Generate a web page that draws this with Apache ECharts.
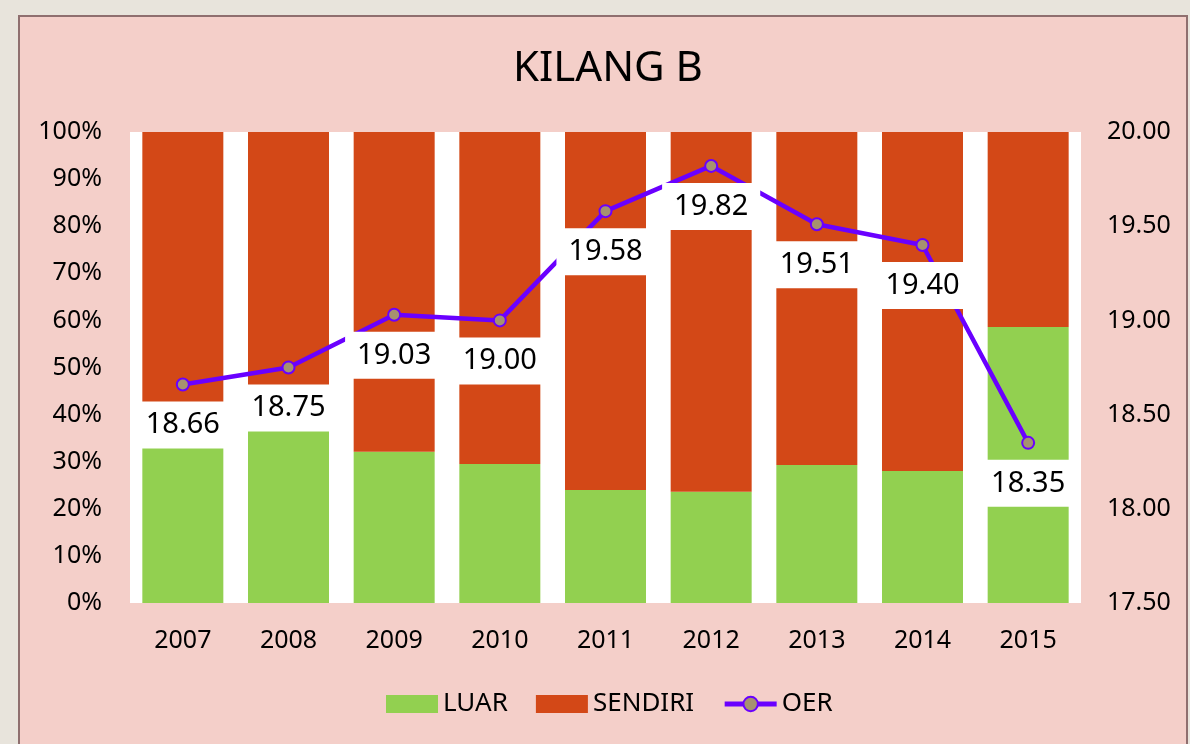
<!DOCTYPE html>
<html>
<head>
<meta charset="utf-8">
<script src="https://cdn.jsdelivr.net/npm/echarts@6/dist/echarts.min.js"></script>
<style>
  html, body { margin: 0; padding: 0; background: #e8e4dc; }
  #chart { width: 1190px; height: 744px; }
</style>
</head>
<body>
<div id="chart"></div>
<script>
const chart = echarts.init(document.getElementById('chart'));

// data
const years = ['2007', '2008', '2009', '2010', '2011', '2012', '2013', '2014', '2015'];
const luar = [33.3, 36.9, 32.1, 29.5, 24.0, 23.6, 29.3, 28.0, 58.6];
const sendiri = [66.7, 63.1, 67.9, 70.5, 76.0, 76.4, 70.7, 72.0, 41.4];
const oer = [18.66, 18.75, 19.03, 19.00, 19.58, 19.82, 19.51, 19.40, 18.35];

const font = 'Noto Sans';

chart.setOption({
    backgroundColor: '#e8e4dc',
    graphic: [{
        type: 'rect',
        z: -10,
        shape: { x: 19, y: 16, width: 1168, height: 740 },
        style: { fill: '#f4cfc9', stroke: '#8f6f6f', lineWidth: 2 }
    }],
    title: {
        text: 'KILANG B',
        left: 603,
        top: 43,
        textAlign: 'center',
        textStyle: { fontFamily: font, fontSize: 42, fontWeight: 'normal', color: '#000' }
    },
    legend: {
        left: 381,
        top: 686,
        itemWidth: 52,
        itemHeight: 18,
        itemGap: 28,
        lineStyle: { width: 5 },
        textStyle: { fontFamily: font, fontSize: 26, color: '#000' },
        data: [
            { name: 'LUAR', icon: 'rect' },
            { name: 'SENDIRI', icon: 'rect' },
            { name: 'OER' }
        ]
    },
    grid: {
        left: 130,
        right: 109,
        top: 132,
        bottom: 141,
        show: true,
        backgroundColor: '#fff',
        borderWidth: 0
    },
    xAxis: {
        type: 'category',
        data: years,
        axisLine: { show: false },
        axisTick: { show: false },
        axisLabel: { fontFamily: font, fontSize: 25, color: '#000', margin: 25 }
    },
    yAxis: [{
        type: 'value',
        min: 0,
        max: 100,
        interval: 10,
        splitLine: { show: false },
        axisLabel: { fontFamily: font, fontSize: 25, color: '#000', margin: 28, formatter: '{value}%' }
    }, {
        type: 'value',
        min: 17.5,
        max: 20,
        interval: 0.5,
        splitLine: { show: false },
        axisLabel: {
            fontFamily: font, fontSize: 25, color: '#000', margin: 26,
            formatter: v => v.toFixed(2)
        }
    }],
    series: [{
        name: 'LUAR',
        type: 'bar',
        stack: 'pct',
        barWidth: 81,
        itemStyle: { color: '#92d050' },
        data: luar
    }, {
        name: 'SENDIRI',
        type: 'bar',
        stack: 'pct',
        barWidth: 81,
        itemStyle: { color: '#d34817' },
        data: sendiri
    }, {
        name: 'OER',
        type: 'line',
        yAxisIndex: 1,
        symbol: 'circle',
        symbolSize: 12,
        lineStyle: { color: '#6a00ff', width: 4.5 },
        itemStyle: { color: '#a6926f', borderColor: '#6a00ff', borderWidth: 2 },
        label: {
            show: true,
            position: 'bottom',
            distance: 10,
            formatter: p => p.value.toFixed(2),
            fontFamily: font,
            fontSize: 29,
            color: '#000',
            backgroundColor: '#fff',
            lineHeight: 29,
            padding: [9, 12]
        },
        z: 5,
        data: oer
    }]
});
</script>
</body>
</html>
